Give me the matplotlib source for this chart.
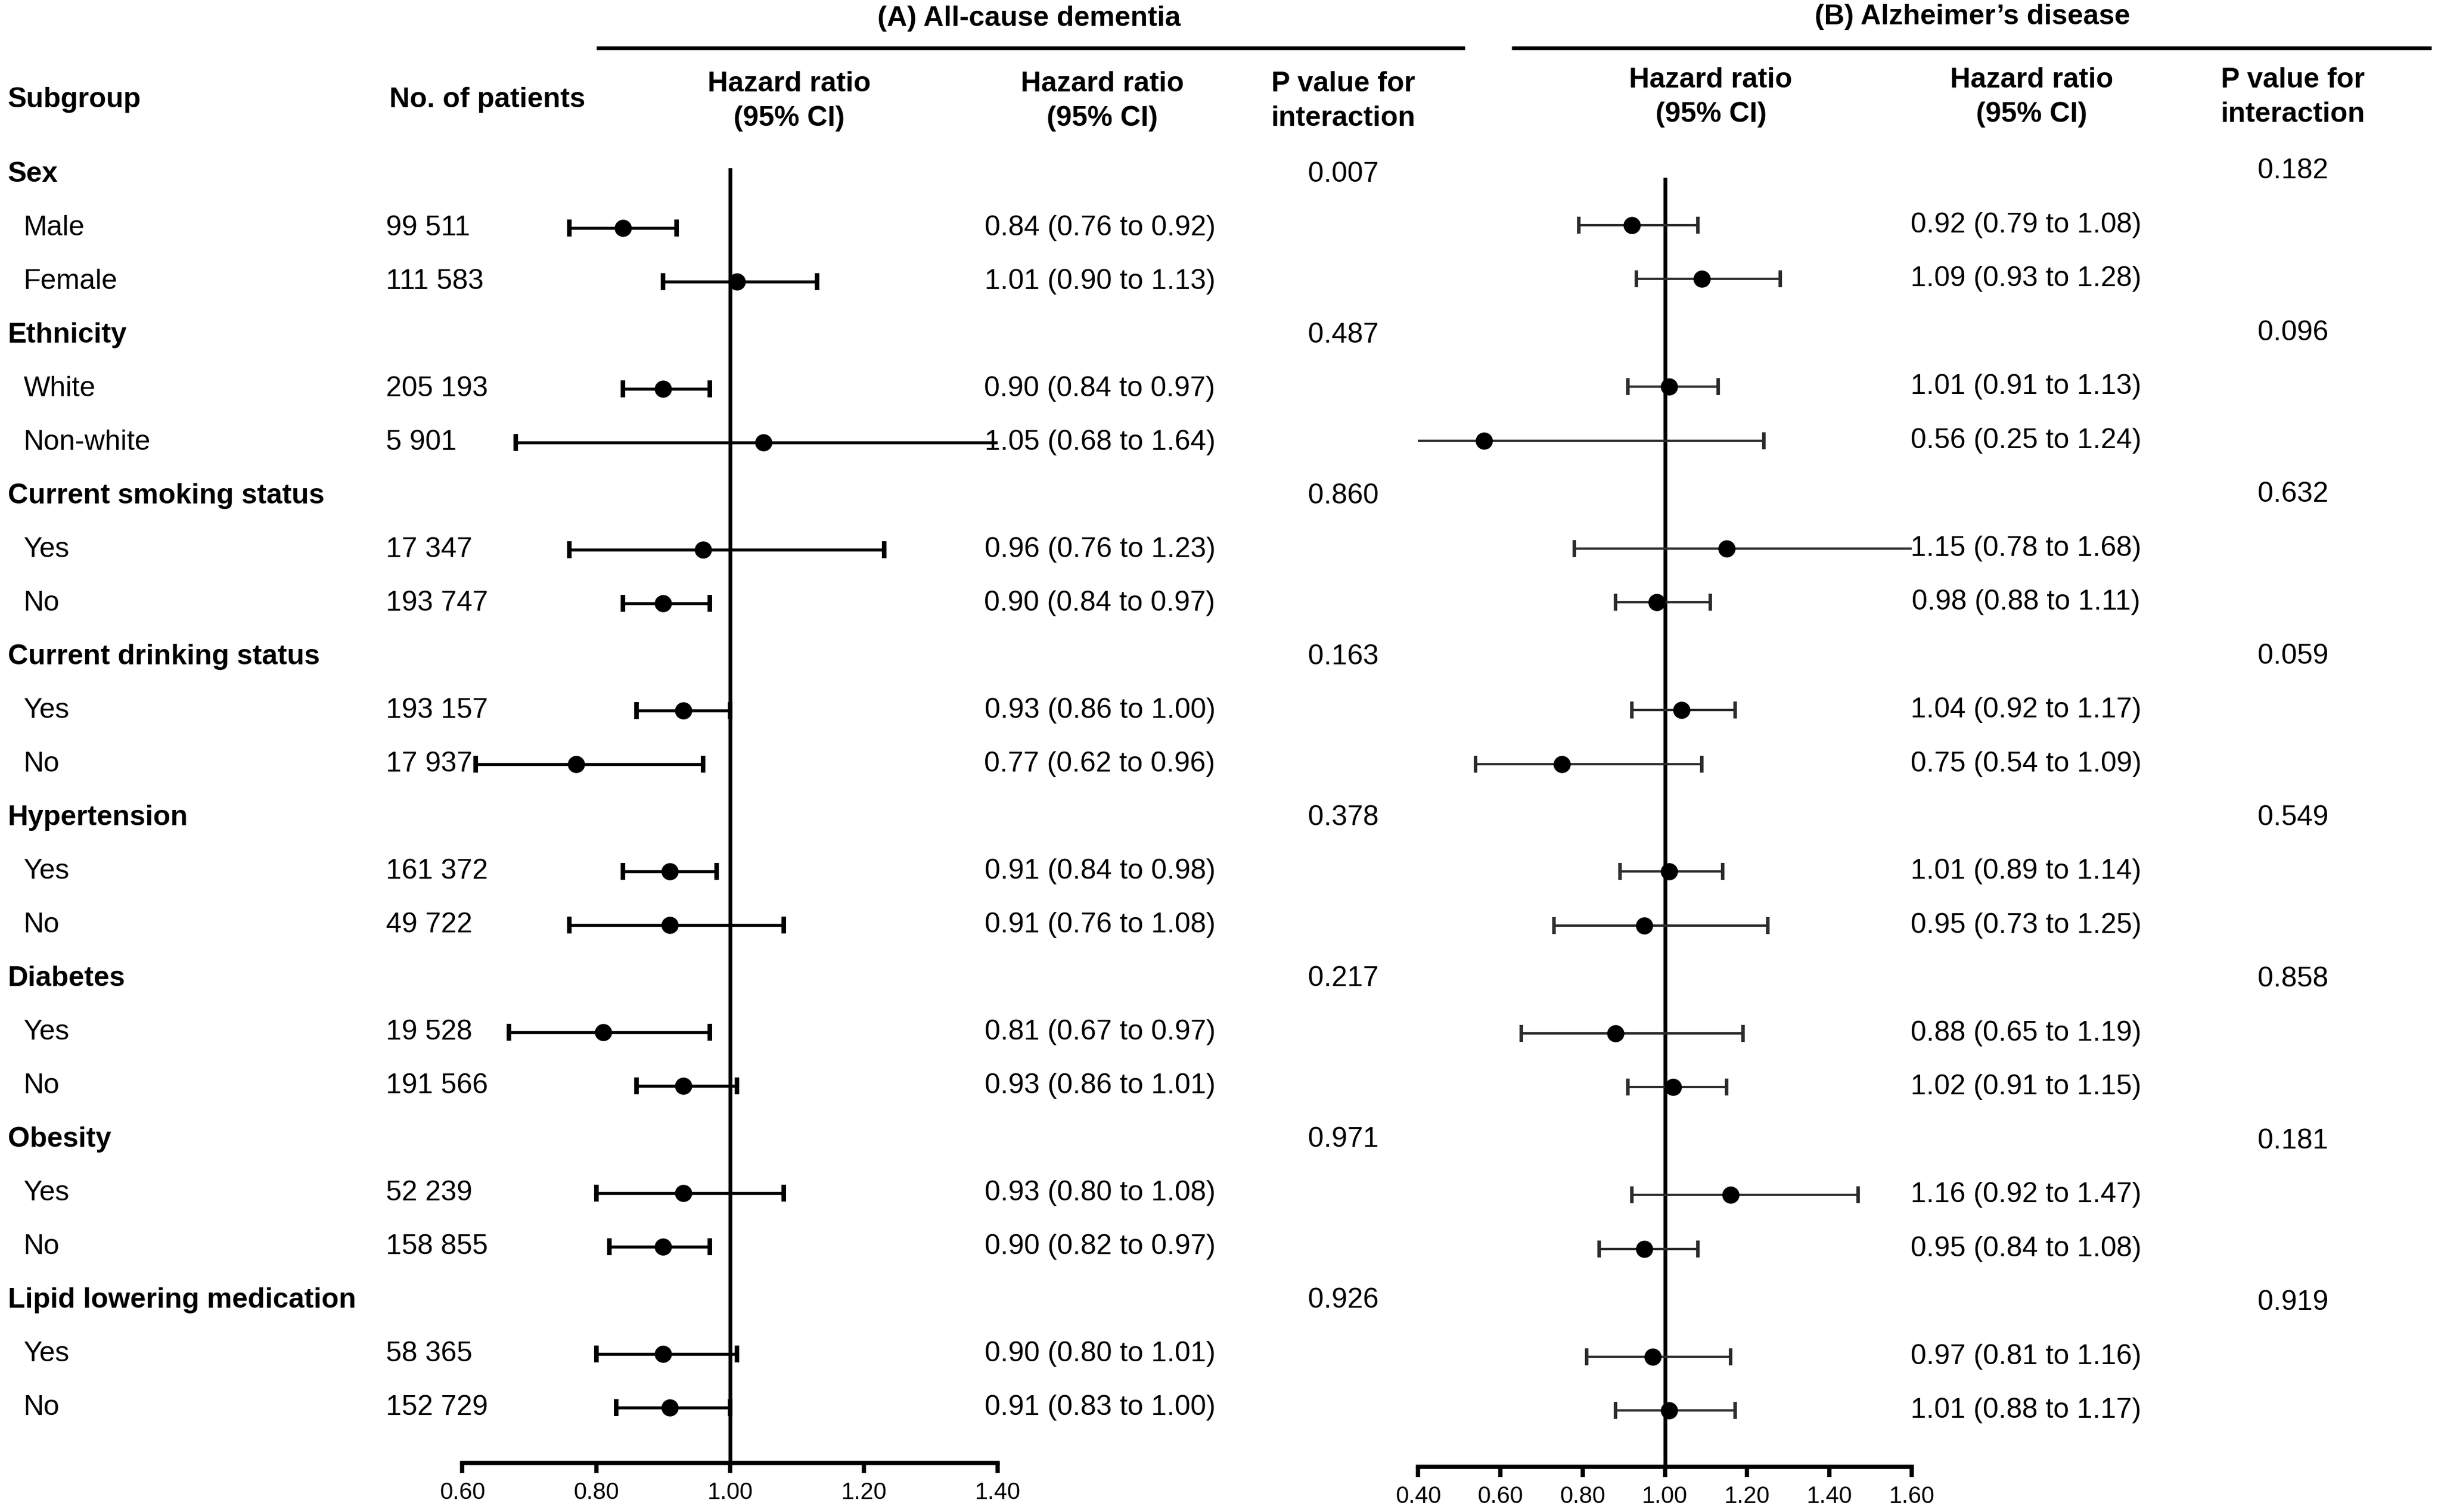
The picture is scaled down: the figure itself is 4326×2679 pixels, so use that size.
import matplotlib
matplotlib.use("Agg")
import matplotlib.pyplot as plt
from matplotlib import transforms

plt.rcParams['font.family'] = ['Liberation Sans', 'DejaVu Sans']

# ---------------- data ----------------
groups = ["Sex", "Ethnicity", "Current smoking status", "Current drinking status",
          "Hypertension", "Diabetes", "Obesity", "Lipid lowering medication"]
subgroups = [["Male", "Female"], ["White", "Non-white"], ["Yes", "No"], ["Yes", "No"],
             ["Yes", "No"], ["Yes", "No"], ["Yes", "No"], ["Yes", "No"]]
n_patients = ["99 511", "111 583", "205 193", "5 901", "17 347", "193 747", "193 157", "17 937",
              "161 372", "49 722", "19 528", "191 566", "52 239", "158 855", "58 365", "152 729"]

# (A) All-cause dementia
hr_a = [0.84, 1.01, 0.90, 1.05, 0.96, 0.90, 0.93, 0.77, 0.91, 0.91, 0.81, 0.93, 0.93, 0.90, 0.90, 0.91]
lo_a = [0.76, 0.90, 0.84, 0.68, 0.76, 0.84, 0.86, 0.62, 0.84, 0.76, 0.67, 0.86, 0.80, 0.82, 0.80, 0.83]
hi_a = [0.92, 1.13, 0.97, 1.64, 1.23, 0.97, 1.00, 0.96, 0.98, 1.08, 0.97, 1.01, 1.08, 0.97, 1.01, 1.00]
p_a = ["0.007", "0.487", "0.860", "0.163", "0.378", "0.217", "0.971", "0.926"]
ticks_a = [0.60, 0.80, 1.00, 1.20, 1.40]

# (B) Alzheimer's disease
hr_b = [0.92, 1.09, 1.01, 0.56, 1.15, 0.98, 1.04, 0.75, 1.01, 0.95, 0.88, 1.02, 1.16, 0.95, 0.97, 1.01]
lo_b = [0.79, 0.93, 0.91, 0.25, 0.78, 0.88, 0.92, 0.54, 0.89, 0.73, 0.65, 0.91, 0.92, 0.84, 0.81, 0.88]
hi_b = [1.08, 1.28, 1.13, 1.24, 1.68, 1.11, 1.17, 1.09, 1.14, 1.25, 1.19, 1.15, 1.47, 1.08, 1.16, 1.17]
p_b = ["0.182", "0.096", "0.632", "0.059", "0.549", "0.858", "0.181", "0.919"]
ticks_b = [0.40, 0.60, 0.80, 1.00, 1.20, 1.40, 1.60]

# ---------------- layout ----------------
W, H = 1568.0, 971.0
FS = 12
fig = plt.figure(figsize=(4326 / 300, 2679 / 300), dpi=300)
lay = fig.add_axes([0, 0, 1, 1])
lay.set_xlim(0, W)
lay.set_ylim(H, 0)
lay.axis('off')


def rect(x0, x1, ytop, ybot):
    return [x0 / W, 1 - ybot / H, (x1 - x0) / W, (ybot - ytop) / H]


def make_forest(pos, row0, step, top, bottom, xlim, ticks, hr, lo, hi, color, lw):
    ax = fig.add_axes(pos)
    ax.patch.set_visible(False)
    ax.set_xlim(*xlim)
    ax.set_ylim((bottom - row0) / step, (top - row0) / step)
    for s in ['left', 'right', 'top']:
        ax.spines[s].set_visible(False)
    ax.spines['bottom'].set_linewidth(1.8)
    ax.set_yticks([])
    ax.set_xticks(ticks)
    ax.set_xticklabels([f"{t:.2f}" for t in ticks], fontsize=10)
    ax.tick_params(axis='x', direction='out', length=4.4, width=1.8, pad=3.5)
    ax.axvline(1.0, color='black', lw=1.6, zorder=1)
    ys = [3 * g + 1 + k for g in range(len(groups)) for k in range(2)]
    for y, h, l, u in zip(ys, hr, lo, hi):
        ax.errorbar(h, y, xerr=[[h - l], [u - h]], fmt='o', color=color, mfc='black', mec='black',
                    ms=6.3, elinewidth=lw, capsize=3.6, capthick=lw * 1.5, zorder=3)
    return ax


rowA0, stepA = 112.0, 34.43
rowB0, stepB = 110.0, 34.6
axA = make_forest(rect(297, 641, 108, 939.5), rowA0, stepA, 108, 939.5, (0.6, 1.4), ticks_a,
                  hr_a, lo_a, hi_a, 'black', 1.3)
axB = make_forest(rect(911, 1228, 114, 942), rowB0, stepB, 114, 942, (0.4, 1.6), ticks_b,
                  hr_b, lo_b, hi_b, '#2b2b2b', 1.0)

trA = transforms.blended_transform_factory(lay.transData, axA.transData)
trB = transforms.blended_transform_factory(lay.transData, axB.transData)

# titles and rules
lay.text(661, 12, "(A) All-cause dementia", ha='center', va='center', fontsize=FS, fontweight='bold')
lay.text(1267, 11, "(B) Alzheimer\u2019s disease", ha='center', va='center', fontsize=FS, fontweight='bold')
lay.plot([383, 941], [30.7, 30.7], color='black', lw=1.6, solid_capstyle='butt')
lay.plot([971, 1562], [30.7, 30.7], color='black', lw=1.6, solid_capstyle='butt')

# column headers
lay.text(5, 64, "Subgroup", ha='left', va='center', fontsize=FS, fontweight='bold')
lay.text(250, 64, "No. of patients", ha='left', va='center', fontsize=FS, fontweight='bold')
for cx, y1, y2, l1, l2 in [(507, 54, 76, "Hazard ratio", "(95% CI)"),
                           (708, 54, 76, "Hazard ratio", "(95% CI)"),
                           (863, 54, 76, "P value for", "interaction"),
                           (1099, 51.5, 73.5, "Hazard ratio", "(95% CI)"),
                           (1305, 51.5, 73.5, "Hazard ratio", "(95% CI)"),
                           (1473, 51.5, 73.5, "P value for", "interaction")]:
    lay.text(cx, y1, l1, ha='center', va='center', fontsize=FS, fontweight='bold')
    lay.text(cx, y2, l2, ha='center', va='center', fontsize=FS, fontweight='bold')

# rows
for g, name in enumerate(groups):
    r = 3 * g
    lay.text(5, r, name, transform=trA, ha='left', va='center', fontsize=FS, fontweight='bold')
    lay.text(863, r, p_a[g], transform=trA, ha='center', va='center', fontsize=FS)
    lay.text(1473, r, p_b[g], transform=trB, ha='center', va='center', fontsize=FS)
    for k, sub in enumerate(subgroups[g]):
        i = 2 * g + k
        rr = r + 1 + k
        lay.text(15, rr, sub, transform=trA, ha='left', va='center', fontsize=FS)
        lay.text(248, rr, n_patients[i], transform=trA, ha='left', va='center', fontsize=FS)
        lay.text(706.5, rr, f"{hr_a[i]:.2f} ({lo_a[i]:.2f} to {hi_a[i]:.2f})", transform=trA,
                 ha='center', va='center', fontsize=FS)
        lay.text(1301.5, rr, f"{hr_b[i]:.2f} ({lo_b[i]:.2f} to {hi_b[i]:.2f})", transform=trB,
                 ha='center', va='center', fontsize=FS)

fig.savefig("out.png", dpi=300)
